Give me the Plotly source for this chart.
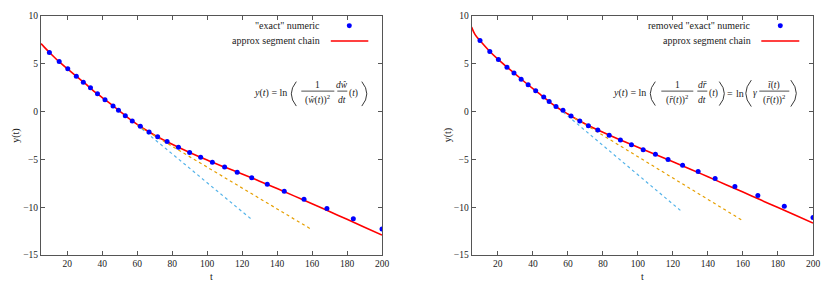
import plotly.graph_objects as go

# ---------------- data ----------------
t_pts = [9.8, 15.4, 20.3, 25.2, 29.2, 33.3, 37.3, 41.6, 46.2, 49.3, 53.2, 57.2,
         61.8, 66.8, 71.7, 77.1, 83.6, 90.0, 96.3, 103.0, 110.0, 117.2, 125.5,
         134.4, 144.1, 155.4, 168.5, 183.6, 200.0]
y_left_pts = [6.18, 5.24, 4.47, 3.71, 3.08, 2.49, 1.86, 1.24, 0.58, 0.13, -0.43,
              -0.99, -1.54, -2.13, -2.62, -3.14, -3.73, -4.29, -4.78, -5.30, -5.79,
              -6.34, -6.93, -7.59, -8.32, -9.16, -10.13, -11.21, -12.29]
y_right_pts = [7.43, 6.28, 5.45, 4.65, 4.05, 3.39, 2.80, 2.18, 1.52, 1.06, 0.54,
               0.13, -0.47, -0.99, -1.47, -1.93, -2.48, -2.97, -3.46, -3.98, -4.46,
               -5.02, -5.61, -6.27, -7.00, -7.84, -8.78, -9.89, -11.07]

t_left_curve = [5, 7, 10, 15, 20, 25, 30, 35, 40, 45, 50, 55, 60, 65, 70, 80, 90,
                100, 110, 120, 130, 140, 150, 160, 170, 180, 190, 200]
y_left_curve = [7.11, 6.72, 6.16, 5.28, 4.50, 3.73, 2.97, 2.18, 1.47, 0.78, 0.05,
                -0.68, -1.33, -1.93, -2.47, -3.42, -4.28, -5.07, -5.80, -6.53,
                -7.28, -8.05, -8.84, -9.63, -10.45, -11.27, -12.09, -12.91]

t_right_curve = [5, 7, 10, 15, 20, 25, 30, 35, 40, 45, 50, 55, 60, 65, 70, 80, 90,
                 100, 110, 120, 130, 140, 150, 160, 170, 180, 190, 200]
y_right_curve = [8.85, 8.05, 7.38, 6.37, 5.48, 4.68, 3.93, 3.15, 2.40, 1.68, 0.95,
                 0.30, -0.25, -0.80, -1.29, -2.16, -2.97, -3.73, -4.48, -5.24,
                 -6.02, -6.82, -7.62, -8.42, -9.23, -10.03, -10.84, -11.66]

t_left_blue = [60.0, 125.7]
y_left_blue = [-1.40, -11.32]
t_left_orange = [60.0, 160.0]
y_left_orange = [-1.44, -12.36]

t_right_blue = [57.3, 125.0]
y_right_blue = [-0.05, -10.45]
t_right_orange = [61.0, 160.0]
y_right_orange = [-0.36, -11.42]

x_ticks = [20, 40, 60, 80, 100, 120, 140, 160, 180, 200]
y_ticks = [-15, -10, -5, 0, 5, 10]

legend_pts_left = '"exact" numeric'
legend_pts_right = 'removed "exact" numeric'
legend_line = "approx segment chain"

# ---------------- styling ----------------
FONT = "Liberation Serif"
BLUE_PT = "#0000ff"
RED = "#ff0000"
SKY = "#56b4e9"
ORANGE = "#e69f00"
AXC = "#555555"
TXT = "#222222"

# the page body has an 8px margin; work in window pixel coordinates
OFF = 8
WIN_W, WIN_H = 832, 287
W, H = WIN_W - OFF, WIN_H - OFF
PL, PR, PT, PB = 40.7, 812.7, 15.7, 255.3   # plot box in window pixels
ML = PL - OFF
MR = WIN_W - PR
MT = PT - OFF
MB = WIN_H - PB
PW, PH = PR - PL, PB - PT


def px(x):
    return (x - PL) / PW


def py(y):
    return (PB - y) / PH


fig = go.Figure()

panels = [
    ("x", "y", y_left_pts, t_left_curve, y_left_curve,
     (t_left_blue, y_left_blue), (t_left_orange, y_left_orange)),
    ("x2", "y2", y_right_pts, t_right_curve, y_right_curve,
     (t_right_blue, y_right_blue), (t_right_orange, y_right_orange)),
]
for xa, ya, ypts, tc, yc, bl, orl in panels:
    fig.add_trace(go.Scatter(x=tc, y=yc, mode="lines", xaxis=xa, yaxis=ya,
                             line=dict(color=RED, width=1.6, shape="spline"),
                             showlegend=False, hoverinfo="skip"))
    fig.add_trace(go.Scatter(x=bl[0], y=bl[1], mode="lines", xaxis=xa, yaxis=ya,
                             line=dict(color=SKY, width=1.2, dash="3px,3px"),
                             showlegend=False, hoverinfo="skip"))
    fig.add_trace(go.Scatter(x=orl[0], y=orl[1], mode="lines", xaxis=xa, yaxis=ya,
                             line=dict(color=ORANGE, width=1.2, dash="3px,3px"),
                             showlegend=False, hoverinfo="skip"))
    fig.add_trace(go.Scatter(x=t_pts, y=ypts, mode="markers", xaxis=xa, yaxis=ya,
                             marker=dict(color=BLUE_PT, size=5, line=dict(width=0)),
                             showlegend=False))

axis_common = dict(showline=True, linecolor=AXC, linewidth=1, mirror="ticks",
                   ticks="inside", ticklen=4, tickcolor=AXC, tickwidth=1,
                   showgrid=False, zeroline=False,
                   tickfont=dict(family=FONT, size=9.5, color=TXT))

dom_left = [0, px(381.7)]
dom_right = [px(471.3), 1]

fig.update_layout(
    width=W, height=H, autosize=False, template="none",
    margin=dict(l=ML, r=MR, t=MT, b=MB, pad=0),
    paper_bgcolor="white", plot_bgcolor="white", showlegend=False,
    xaxis=dict(domain=dom_left, range=[5, 200], tickvals=x_ticks, anchor="y",
               **axis_common),
    yaxis=dict(domain=[0, 1], range=[-15, 10], tickvals=y_ticks, anchor="x",
               **axis_common),
    xaxis2=dict(domain=dom_right, range=[5, 200], tickvals=x_ticks, anchor="y2",
                **axis_common),
    yaxis2=dict(domain=[0, 1], range=[-15, 10], tickvals=y_ticks, anchor="x2",
                **axis_common),
)

ann = []
shapes = []


def txt(x, y, s, size=10, xa="center", ya="middle", angle=0):
    ann.append(dict(x=px(x), y=py(y), xref="paper", yref="paper", text=s,
                    showarrow=False, xanchor=xa, yanchor=ya, textangle=angle,
                    font=dict(family=FONT, size=size, color=TXT)))


def hline(x0, x1, y, color=TXT, width=0.8):
    shapes.append(dict(type="line", xref="paper", yref="paper",
                       x0=px(x0), x1=px(x1), y0=py(y), y1=py(y),
                       line=dict(color=color, width=width)))


def dot(x, y, r=2.5):
    shapes.append(dict(type="circle", xref="paper", yref="paper",
                       x0=px(x - r), x1=px(x + r), y0=py(y + r), y1=py(y - r),
                       fillcolor=BLUE_PT, line=dict(width=0)))


def paren(x_tip, x_mid, y0, y1):
    """thin big parenthesis drawn as a curve: tips at x_tip, bulge at x_mid"""
    xc = 2 * x_mid - x_tip
    ym = (y0 + y1) / 2
    path = (f"M {px(x_tip)},{py(y0)} Q {px(xc)},{py(ym)} {px(x_tip)},{py(y1)}")
    shapes.append(dict(type="path", xref="paper", yref="paper", path=path,
                       line=dict(color=TXT, width=0.9)))


# axis titles
txt(211, 277, "t", 10)
txt(642, 277, "t", 10)
txt(15, 135.5, "y(t)", 10, angle=-90)
txt(447.5, 135.5, "y(t)", 10, angle=-90)

# legends (gnuplot style: text left of the sample)
txt(322, 25.5, legend_pts_left, 10, xa="right")
dot(349, 25.5)
txt(322, 40.7, legend_line, 10, xa="right")
hline(330.5, 368, 40.7, RED, 1.6)

txt(753, 25.5, legend_pts_right, 10, xa="right")
dot(780, 25.5)
txt(753, 40.7, legend_line, 10, xa="right")
hline(761, 799, 40.7, RED, 1.6)

# formula, left panel
FS = 9.5
MAIN_Y = 93.0
NUM_Y, DEN_Y, BAR_Y = 85.0, 99.5, 91.0
txt(289, MAIN_Y, "<i>y</i>(<i>t</i>) = ln", 10, xa="right")
paren(296, 291, 81.5, 106)
txt(317.5, NUM_Y, "1", FS)
hline(301, 334, BAR_Y)
txt(317.5, DEN_Y, "(<i>ŵ</i>(<i>t</i>))<sup>2</sup>", FS)
txt(342, NUM_Y, "<i>dŵ</i>", FS)
hline(337, 347, BAR_Y)
txt(342, DEN_Y, "<i>dt</i>", FS)
txt(353.5, MAIN_Y, "(<i>t</i>)", FS)
paren(361.5, 366.5, 81.5, 106)

# formula, right panel
txt(648, MAIN_Y, "<i>y</i>(<i>t</i>) = ln", 10, xa="right")
paren(655, 650, 81.5, 105.5)
txt(677, NUM_Y, "1", FS)
hline(661, 693, BAR_Y)
txt(677, DEN_Y, "(<i>r\u0304</i>(<i>t</i>))<sup>2</sup>", FS)
txt(702, NUM_Y, "<i>dr\u0304</i>", FS)
hline(697, 707, BAR_Y)
txt(702, DEN_Y, "<i>dt</i>", FS)
txt(713, MAIN_Y, "(<i>t</i>)", FS)
paren(719, 724, 81.5, 105.5)
txt(730, MAIN_Y, "=", 10)
txt(740, MAIN_Y, "ln", 10)
paren(751, 745.5, 80, 106.5)
txt(755, MAIN_Y, "<i>γ</i>", FS)
txt(774, NUM_Y, "<i>ī</i>(<i>t</i>)", FS)
hline(759, 789, BAR_Y)
txt(774, DEN_Y, "(<i>r\u0304</i>(<i>t</i>))<sup>2</sup>", FS)
paren(790.5, 796, 80, 106.5)

fig.update_layout(annotations=ann, shapes=shapes)

fig.write_html("out.html")
